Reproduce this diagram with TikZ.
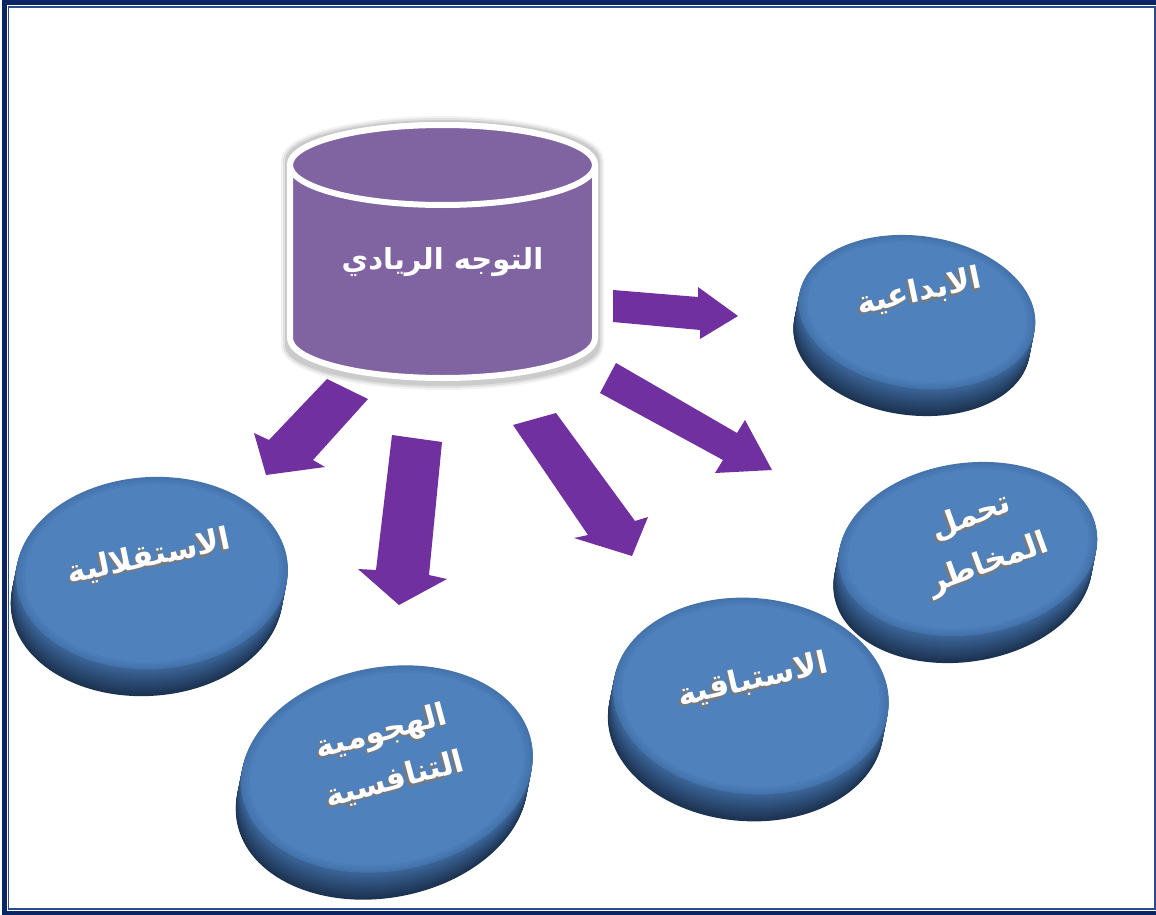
\documentclass[tikz,border=0pt]{standalone}
\usepackage{fontspec}
\newfontfamily\arabicfont[Script=Arabic]{DejaVu Sans}
\TeXXeTstate=1
\definecolor{framenavy}{HTML}{0B2463}
\definecolor{frameblue}{HTML}{2B4C8C}
\definecolor{cylpurple}{HTML}{8064A2}
\definecolor{arrowpurple}{HTML}{7030A0}
\definecolor{facecol}{HTML}{4F81BD}
\definecolor{facebev}{HTML}{4573AC}
\definecolor{sidetop}{HTML}{3A6497}
\definecolor{sidebot}{HTML}{1C3250}
\definecolor{extrude}{HTML}{7A7A7A}

% disk: centre x, centre y, x radius, y radius, tilt
\newcommand\drawdisk[5]{%
  \foreach \k in {27,26,...,1}{%
    \pgfmathtruncatemacro\p{100*(\k-1)/26}%
    \fill[sidebot!\p!sidetop, shift={(#1-0.2*\k,#2+\k)}, rotate=#5]
      (0,0) ellipse [x radius=#3, y radius=#4];
  }%
  \fill[facebev, shift={(#1,#2)}, rotate=#5] (0,0) ellipse [x radius=#3, y radius=#4];
  \foreach \d/\m in {3/35,6/65,9/100}{%
    \pgfmathsetmacro\ia{#3-\d}%
    \pgfmathsetmacro\ib{#4-0.8*\d}%
    \fill[facecol!\m!facebev, shift={(#1,#2)}, rotate=#5] (0,0) ellipse [x radius=\ia, y radius=\ib];
  }%
}
% raised white label: name, x, y, tilt, text
\newcommand\disktext[5]{%
  \foreach \k in {3,2,1}{%
    \node[dtxt, text=extrude, xshift=-0.6*\k pt, yshift=-0.8*\k pt, rotate=#4] at (#2,#3) {#5};
  }%
  \node[dtxt, text=white, rotate=#4] (#1) at (#2,#3) {#5};
}

\begin{document}
\begin{tikzpicture}[x=1pt,y=-1pt,
  dtxt/.style={font=\arabicfont\bfseries\fontsize{31}{50}\selectfont, align=center, inner sep=0pt},
  ctxt/.style={font=\arabicfont\bfseries\fontsize{29}{34}\selectfont, text=white, inner sep=0pt},
  blockarrow/.style={fill=arrowpurple}]
\useasboundingbox (0,0) rectangle (1156,915);
\fill[white] (0,0) rectangle (1156,915);

% frame
\draw[framenavy, line width=5pt] (4.2,2.5) rectangle (1170,913);
\draw[frameblue, line width=1.5pt] (8.7,7) rectangle (1154.8,909.2);

% block arrows
\fill[blockarrow] (613,290) -- (698,297) -- (698,287) -- (738,316) -- (700,339) -- (700,330) -- (613,322) -- cycle;
\fill[blockarrow] (327,379) -- (368,399) -- (313,460) -- (325,467) -- (266,475) -- (254,433) -- (269,440) -- cycle;
\fill[blockarrow] (392,435) -- (442,442) -- (429,575) -- (447,579) -- (399,605) -- (358,569) -- (376,570) -- cycle;
\fill[blockarrow] (513,425) -- (556,413) -- (635,521) -- (648,517) -- (632,556) -- (574,538) -- (588,535) -- cycle;
\fill[blockarrow] (616,363) -- (737,433) -- (745,420) -- (772,470) -- (715,473) -- (723,460) -- (600,393) -- cycle;

% cylinder: soft shadow, body, lid
\foreach \w/\o in {18/0.05,14/0.07,10/0.09}{%
  \draw[black, opacity=\o, line width=\w pt, rounded corners=4pt]
    (290,165) -- (290,341) arc [start angle=180, end angle=0, x radius=152.5, y radius=40]
    -- (595,165) arc [start angle=0, end angle=-180, x radius=152.5, y radius=40] -- cycle;
}
\filldraw[fill=cylpurple, draw=white, line width=6pt]
  (290,165) -- (290,338) arc [start angle=180, end angle=0, x radius=152.5, y radius=40]
  -- (595,165) arc [start angle=0, end angle=-180, x radius=152.5, y radius=40] -- cycle;
\filldraw[fill=cylpurple, draw=white, line width=6pt] (442.5,165) ellipse [x radius=152.5, y radius=40];
\node[ctxt] (core) at (442.5,262) {\beginR التوجه الريادي\endR};

% disks
\drawdisk{917}{312}{119}{76}{-8}
\drawdisk{968}{549}{130}{86}{8}
\drawdisk{152}{573}{136}{96}{3}
\drawdisk{387}{769}{147}{102}{10}
\drawdisk{751}{696}{138}{98}{-5}

% disk labels
\disktext{creativity}{919}{292}{12}{\beginR الابداعية\endR}
\disktext{risk}{980}{541}{20}{\beginR تحمل\endR\\\beginR المخاطر\endR}
\disktext{autonomy}{149}{557}{12}{\beginR الاستقلالية\endR}
\disktext{aggressive}{388}{756}{15}{\beginR الهجومية\endR\\\beginR التنافسية\endR}
\disktext{proactive}{753}{680}{13}{\beginR الاستباقية\endR}
\end{tikzpicture}
\end{document}
